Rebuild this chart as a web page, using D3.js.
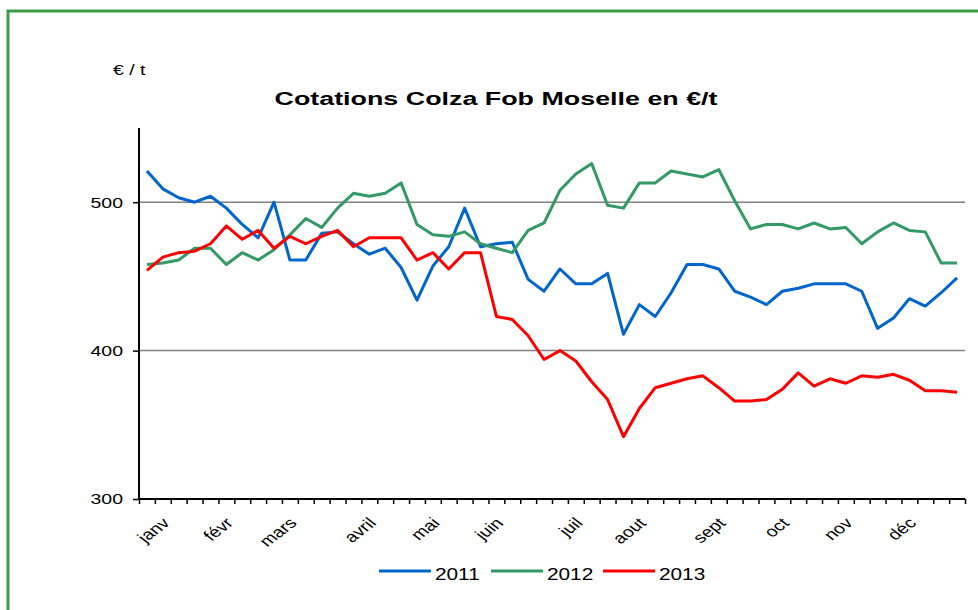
<!DOCTYPE html>
<html>
<head>
<meta charset="utf-8">
<script src="https://cdn.jsdelivr.net/npm/d3@7"></script>
<style>
  body { margin: 0; background: #fff; }
  svg { display: block; font-family: "Liberation Sans", Arial, sans-serif; }
</style>
</head>
<body>
<div id="chart"></div>
<script>
// weekly quotes, 52 weeks per year
var s2011 = [521,509,503,500,504,496,485,476,500,461,461,479,480,472,465,469,456,434,457,470,496,470,472,473,448,440,
             455,445,445,452,411,431,423,439,458,458,455,440,436,431,440,442,445,445,445,440,415,422,435,430,439,449];
var s2012 = [458,459,461,469,469,458,466,461,468,478,489,483,496,506,504,506,513,485,478,477,480,472,469,466,481,486,
             508,519,526,498,496,513,513,521,519,517,522,501,482,485,485,482,486,482,483,472,480,486,481,480,459,459];
var s2013 = [454,463,466,467,472,484,475,481,469,477,472,477,481,470,476,476,476,461,466,455,466,466,423,421,410,394,
             400,393,379,367,342,361,375,378,381,383,375,366,366,367,374,385,376,381,378,383,382,384,380,373,373,372];

var years = ["2011", "2012", "2013"];
var colors = ["#0066cc", "#339966", "#ff0000"];
var months = ["janv","févr","mars","avril","mai","juin","juil","aout","sept","oct","nov","déc"];
var monthWeek = [1, 5, 9, 14, 18, 22, 27, 31, 36, 40, 44, 48];
var yTicks = [300, 400, 500];

var width = 978, height = 610;
var sx = 1.3; // the original picture is stretched horizontally

var svg = d3.select("#chart").append("svg")
  .attr("width", width)
  .attr("height", height);

// green frame
svg.append("rect")
  .attr("x", 8).attr("y", 11)
  .attr("width", width + 20).attr("height", height + 20)
  .style("fill", "none")
  .style("stroke", "#3d9a47")
  .style("stroke-width", 3);

var plotLeft = 139, plotRight = 965, plotTop = 128, plotBottom = 499;
var weeks = d3.range(s2011.length);

var x = d3.scaleBand().domain(weeks).range([plotLeft, plotRight]).padding(0);
var xEdge = d3.scaleLinear().domain([0, weeks.length]).range([plotLeft, plotRight]);
var y = d3.scaleLinear().domain([300, 550]).range([plotBottom, plotTop]);

// grid lines
svg.append("g")
  .selectAll("line")
  .data([400, 500])
  .enter().append("line")
  .attr("x1", plotLeft).attr("x2", plotRight)
  .attr("y1", function (d) { return y(d); })
  .attr("y2", function (d) { return y(d); })
  .style("stroke", "#808080")
  .style("stroke-width", 1.5);

// y axis
var yAxis = svg.append("g")
  .attr("transform", "translate(" + plotLeft + ",0)")
  .call(d3.axisLeft(y).tickValues(yTicks).tickSize(6).tickPadding(0));
yAxis.select(".domain").style("stroke", "#000").style("stroke-width", 2).attr("d", "M0," + plotTop + "V" + plotBottom);
yAxis.selectAll(".tick line").style("stroke", "#000").style("stroke-width", 1.5);
yAxis.selectAll(".tick text")
  .attr("x", 0)
  .attr("transform", "translate(-16,0) scale(" + sx + ",1)")
  .style("font-size", "15px")
  .style("fill", "#000");

// x axis with a tick at each week boundary
var xAxis = svg.append("g")
  .attr("transform", "translate(0," + plotBottom + ")")
  .call(d3.axisBottom(xEdge).tickValues(d3.range(weeks.length + 1)).tickSize(5).tickFormat(""));
xAxis.select(".domain").style("stroke", "#000").style("stroke-width", 2).attr("d", "M" + plotLeft + ",0H" + plotRight);
xAxis.selectAll(".tick line").style("stroke", "#000").style("stroke-width", 1.5);

// month labels
svg.append("g")
  .selectAll("text")
  .data(months)
  .enter().append("text")
  .attr("transform", function (d, i) {
    var px = x(monthWeek[i]) + x.bandwidth() / 2 + 8;
    return "translate(" + px + ",524) scale(" + sx + ",1) rotate(-45)";
  })
  .attr("text-anchor", "end")
  .style("font-size", "15px")
  .style("fill", "#000")
  .text(function (d) { return d; });

// lines
var line = d3.line()
  .x(function (d, i) { return x(i) + x.bandwidth() / 2; })
  .y(function (d) { return y(d); });

[s2011, s2012, s2013].forEach(function (s, k) {
  svg.append("path")
    .datum(s)
    .attr("d", line)
    .style("fill", "none")
    .style("stroke", colors[k])
    .style("stroke-width", 3)
    .style("stroke-linejoin", "round");
});

// titles
svg.append("text")
  .attr("x", 496).attr("y", 105)
  .attr("text-anchor", "middle")
  .attr("textLength", 443)
  .attr("lengthAdjust", "spacingAndGlyphs")
  .style("font-size", "18px")
  .style("font-weight", "bold")
  .text("Cotations Colza Fob Moselle en €/t");

svg.append("text")
  .attr("transform", "translate(113,75) scale(" + sx + ",1)")
  .style("font-size", "15px")
  .text("€ / t");

// legend
var legend = svg.append("g").attr("transform", "translate(379,571)");
years.forEach(function (yr, k) {
  var g = legend.append("g").attr("transform", "translate(" + (k * 112) + ",0)");
  g.append("line")
    .attr("x1", 0).attr("x2", 52)
    .style("stroke", colors[k])
    .style("stroke-width", 3);
  g.append("text")
    .attr("transform", "translate(56,9) scale(" + sx + ",1)")
    .style("font-size", "16px")
    .text(yr);
});
</script>
</body>
</html>
